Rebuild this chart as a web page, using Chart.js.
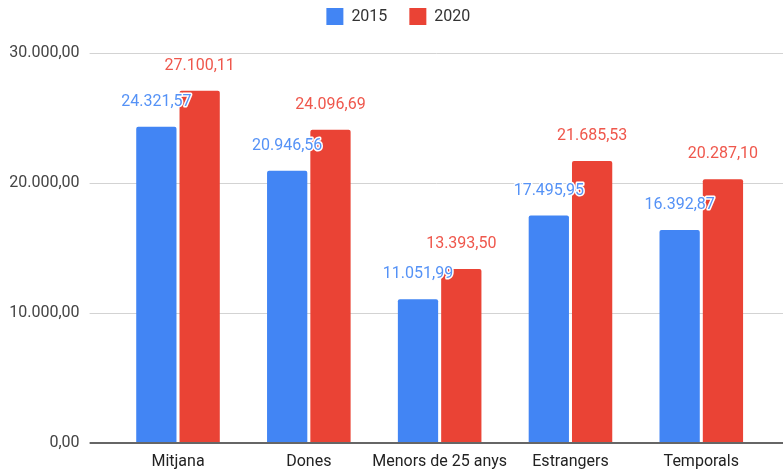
<!DOCTYPE html>
<html>
<head>
<meta charset="utf-8">
<script src="https://cdn.jsdelivr.net/npm/chart.js@4"></script>
<style>
  html, body { margin: 0; padding: 0; background: #ffffff; }
  #wrap { width: 783px; height: 471px; }
</style>
</head>
<body>
<div id="wrap"><canvas id="c" width="783" height="471"></canvas></div>
<script>
// Salari mitjà per col·lectiu, 2015 vs 2020
const categories = ['Mitjana', 'Dones', 'Menors de 25 anys', 'Estrangers', 'Temporals'];
const seriesNames = ['2015', '2020'];
const values2015 = [24321.57, 20946.56, 11051.99, 17495.95, 16392.87];
const values2020 = [27100.11, 24096.69, 13393.50, 21685.53, 20287.10];
const yTicks = [0, 10000, 20000, 30000];

const BLUE = '#4285F4';
const RED = '#EA4335';
const FONT = 'Roboto, "Noto Sans", Arial, sans-serif';

// Catalan number format: 24.321,57
function fmt(v) {
  const fixed = Math.abs(v).toFixed(2);
  const [intPart, dec] = fixed.split('.');
  const grouped = intPart.replace(/\B(?=(\d{3})+(?!\d))/g, '.');
  return (v < 0 ? '-' : '') + grouped + ',' + dec;
}

// Horizontal gridlines that run from just left of the plot to the canvas edge
const gridPlugin = {
  id: 'wideGrid',
  beforeDatasetsDraw(chart) {
    const y = chart.scales.y;
    const ctx = chart.ctx;
    ctx.save();
    y.ticks.forEach(t => {
      if (t.value === 0) return;
      const py = Math.round(y.getPixelForValue(t.value)) + 0.5;
      ctx.strokeStyle = '#d3d3d3';
      ctx.lineWidth = 1;
      ctx.beginPath();
      ctx.moveTo(chart.chartArea.left - 23, py);
      ctx.lineTo(chart.width, py);
      ctx.stroke();
    });
    ctx.restore();
  },
  afterDatasetsDraw(chart) {
    const y = chart.scales.y;
    const ctx = chart.ctx;
    ctx.save();
    const py = Math.round(y.getPixelForValue(0));
    ctx.strokeStyle = '#666666';
    ctx.lineWidth = 2;
    ctx.beginPath();
    ctx.moveTo(chart.chartArea.left - 23, py);
    ctx.lineTo(chart.width, py);
    ctx.stroke();
    ctx.restore();
  }
};

// Value labels above each bar, with a white halo
const valueLabels = {
  id: 'valueLabels',
  afterDatasetsDraw(chart) {
    const ctx = chart.ctx;
    ctx.save();
    ctx.font = '16px ' + FONT;
    ctx.textAlign = 'center';
    ctx.textBaseline = 'alphabetic';
    ctx.lineJoin = 'round';
    chart.data.datasets.forEach((ds, di) => {
      const meta = chart.getDatasetMeta(di);
      meta.data.forEach((bar, i) => {
        const txt = fmt(ds.data[i]);
        const ty = bar.y - 21;
        ctx.strokeStyle = '#ffffff';
        ctx.lineWidth = 3;
        ctx.strokeText(txt, bar.x, ty);
        ctx.fillStyle = ds.labelColor;
        ctx.fillText(txt, bar.x, ty);
      });
    });
    ctx.restore();
  }
};

// Legend block: fixed height above the plot, items nudged up and right
const legendPlace = {
  id: 'legendPlace',
  beforeLayout(chart) {
    const lg = chart.legend;
    if (lg && !lg._fitPatched) {
      lg._fitPatched = true;
      const baseFit = lg.fit;
      lg.fit = function () { baseFit.call(this); this.height = 53; };
    }
  },
  afterLayout(chart) {
    const lg = chart.legend;
    if (!lg) return;
    lg.top -= 14; lg.bottom -= 14;
    lg.left += 15; lg.right += 15;
  }
};

new Chart(document.getElementById('c'), {
  type: 'bar',
  data: {
    labels: categories,
    datasets: [
      {
        label: seriesNames[0],
        data: values2015,
        backgroundColor: BLUE,
        labelColor: '#5592f6',
        borderRadius: 2,
        borderSkipped: 'start',
        categoryPercentage: 0.662,
        barPercentage: 0.93
      },
      {
        label: seriesNames[1],
        data: values2020,
        backgroundColor: RED,
        labelColor: '#ef574c',
        borderRadius: 2,
        borderSkipped: 'start',
        categoryPercentage: 0.662,
        barPercentage: 0.93
      }
    ]
  },
  options: {
    responsive: false,
    animation: false,
    devicePixelRatio: 1,
    layout: { padding: { left: 0, right: 16.3, top: 0, bottom: 0 } },
    plugins: {
      legend: {
        position: 'top',
        align: 'center',
        labels: {
          boxWidth: 17,
          boxHeight: 17,
          padding: 22,
          color: '#333333',
          font: { family: FONT, size: 16 }
        }
      },
      tooltip: { enabled: false }
    },
    scales: {
      x: {
        grid: { display: false, drawTicks: false },
        border: { display: false },
        afterFit(scale) { scale.height = 28; },
        ticks: {
          color: '#222222',
          padding: 9,
          maxRotation: 0,
          autoSkip: false,
          font: { family: FONT, size: 16 }
        }
      },
      y: {
        min: 0,
        max: 30000,
        grid: { display: false, drawTicks: true, tickLength: 23 },
        border: { display: false },
        afterFit(scale) { scale.width = 112.6; },
        afterBuildTicks(scale) { scale.ticks = yTicks.map(v => ({ value: v })); },
        ticks: {
          color: '#444444',
          padding: 10,
          font: { family: FONT, size: 16 },
          callback: v => fmt(v)
        }
      }
    }
  },
  plugins: [gridPlugin, valueLabels, legendPlace]
});
</script>
</body>
</html>
